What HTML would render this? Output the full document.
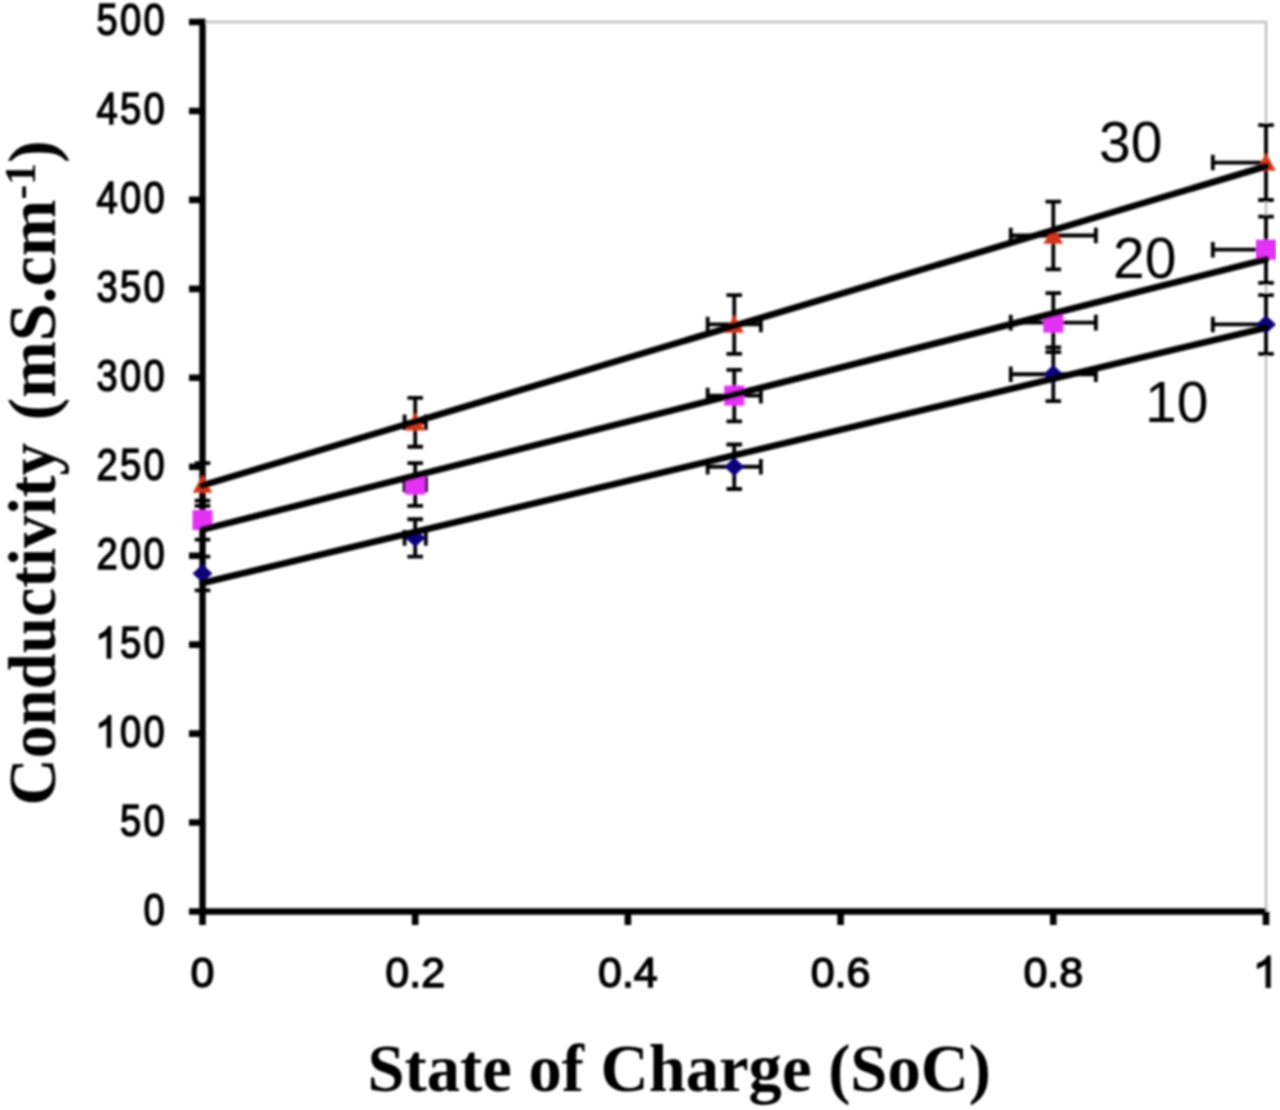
<!DOCTYPE html><html><head><meta charset="utf-8"><style>html,body{margin:0;padding:0;background:#fff;width:1280px;height:1110px;overflow:hidden}svg{display:block}.lb{font-family:"Liberation Sans",sans-serif;fill:#000}.ti{font-family:"Liberation Serif",serif;font-weight:bold;fill:#000}</style></head><body>
<svg width="1280" height="1110" viewBox="0 0 1280 1110">
<defs><filter id="b" x="0" y="0" width="1" height="1"><feGaussianBlur stdDeviation="0.9"/></filter></defs>
<rect width="1280" height="1110" fill="#fff"/>
<g filter="url(#b)">
<path d="M202.5 22.00 H1266.00 V911.5" fill="none" stroke="#C2C2C2" stroke-width="2.6"/>
<path d="M202.5 18.80V911.5H1266.0" fill="none" stroke="#000" stroke-width="6.4"/>
<path d="M189.00 911.50H202.5M189.00 822.55H202.5M189.00 733.60H202.5M189.00 644.65H202.5M189.00 555.70H202.5M189.00 466.75H202.5M189.00 377.80H202.5M189.00 288.85H202.5M189.00 199.90H202.5M189.00 110.95H202.5M189.00 22.00H202.5M202.50 911.5V925.00M415.20 911.5V925.00M627.90 911.5V925.00M840.60 911.5V925.00M1053.30 911.5V925.00M1266.00 911.5V925.00" stroke="#000" stroke-width="6.6" fill="none"/>
<path d="M202.50 463.19V505.89M194.70 463.19H210.30M194.70 505.89H210.30M415.20 397.81V446.74M407.40 397.81H423.00M407.40 446.74H423.00M404.57 422.28H425.84M404.57 414.48V430.08M425.84 414.48V430.08M734.25 295.08V353.78M726.45 295.08H742.05M726.45 353.78H742.05M707.66 324.43H760.84M707.66 316.63V332.23M760.84 316.63V332.23M1053.30 201.68V269.28M1045.50 201.68H1061.10M1045.50 269.28H1061.10M1010.76 235.48H1095.84M1010.76 227.68V243.28M1095.84 227.68V243.28M1266.00 125.09V199.99M1258.20 125.09H1273.80M1258.20 199.99H1273.80M1212.83 162.54H1266.00M1212.83 154.74V170.34M202.50 500.55V539.69M194.70 500.55H210.30M194.70 539.69H210.30M415.20 463.19V505.89M407.40 463.19H423.00M407.40 505.89H423.00M404.57 484.54H425.84M404.57 476.74V492.34M425.84 476.74V492.34M734.25 369.79V421.39M726.45 369.79H742.05M726.45 421.39H742.05M707.66 395.59H760.84M707.66 387.79V403.39M760.84 387.79V403.39M1053.30 293.21V352.09M1045.50 293.21H1061.10M1045.50 352.09H1061.10M1010.76 322.65H1095.84M1010.76 314.85V330.45M1095.84 314.85V330.45M1266.00 216.62V282.80M1258.20 216.62H1273.80M1258.20 282.80H1273.80M1212.83 249.71H1266.00M1212.83 241.91V257.51M202.50 556.59V590.39M194.70 556.59H210.30M194.70 590.39H210.30M415.20 519.23V556.59M407.40 519.23H423.00M407.40 556.59H423.00M404.57 537.91H425.84M404.57 530.11V545.71M425.84 530.11V545.71M734.25 444.51V488.99M726.45 444.51H742.05M726.45 488.99H742.05M707.66 466.75H760.84M707.66 458.95V474.55M760.84 458.95V474.55M1053.30 347.38V401.10M1045.50 347.38H1061.10M1045.50 401.10H1061.10M1010.76 374.24H1095.84M1010.76 366.44V382.04M1095.84 366.44V382.04M1266.00 295.08V353.78M1258.20 295.08H1273.80M1258.20 353.78H1273.80M1212.83 324.43H1266.00M1212.83 316.63V332.23" stroke="#000" stroke-width="3.8" fill="none"/>
<path d="M202.50 475.04L212.30 492.84L192.70 492.84Z" fill="#D4381A"/>
<path d="M415.20 412.78L425.00 430.58L405.40 430.58Z" fill="#D4381A"/>
<path d="M734.25 314.93L744.05 332.73L724.45 332.73Z" fill="#D4381A"/>
<path d="M1053.30 225.98L1063.10 243.78L1043.50 243.78Z" fill="#D4381A"/>
<path d="M1266.00 153.04L1275.80 170.84L1256.20 170.84Z" fill="#D4381A"/>
<rect x="192.50" y="510.12" width="20" height="20" fill="#E431F4"/>
<rect x="405.20" y="474.54" width="20" height="20" fill="#E431F4"/>
<rect x="724.25" y="385.59" width="20" height="20" fill="#E431F4"/>
<rect x="1043.30" y="312.65" width="20" height="20" fill="#E431F4"/>
<rect x="1256.00" y="239.71" width="20" height="20" fill="#E431F4"/>
<path d="M202.50 564.29L212.50 573.49L202.50 582.69L192.50 573.49Z" fill="#0E0478"/>
<path d="M415.20 528.71L425.20 537.91L415.20 547.11L405.20 537.91Z" fill="#0E0478"/>
<path d="M734.25 457.55L744.25 466.75L734.25 475.95L724.25 466.75Z" fill="#0E0478"/>
<path d="M1053.30 365.04L1063.30 374.24L1053.30 383.44L1043.30 374.24Z" fill="#0E0478"/>
<path d="M1266.00 315.23L1276.00 324.43L1266.00 333.63L1256.00 324.43Z" fill="#0E0478"/>
<line x1="202.50" y1="485.44" x2="1266.00" y2="166.27" stroke="#000" stroke-width="6.6" stroke-linecap="round"/>
<line x1="202.50" y1="529.65" x2="1266.00" y2="259.40" stroke="#000" stroke-width="6.6" stroke-linecap="round"/>
<line x1="202.50" y1="583.03" x2="1266.00" y2="327.69" stroke="#000" stroke-width="6.6" stroke-linecap="round"/>
<g class="lb" style="font-size:43.5px" stroke="#000" stroke-width="1.4">
<g transform="translate(142.41 924.90) scale(0.975 1)"><text transform="translate(12.10 0) scale(0.9 1)" x="-12.10" y="0">0</text></g>
<g transform="translate(118.82 835.95) scale(0.975 1)"><text transform="translate(12.10 0) scale(0.9 1)" x="-12.10" y="0">5</text><text transform="translate(36.29 0) scale(0.9 1)" x="-12.10" y="0">0</text></g>
<g transform="translate(95.24 747.00) scale(0.975 1)"><path transform="translate(12.10 0) scale(0.01912 -0.02124) translate(-569.5 0)" vector-effect="non-scaling-stroke" d="M763 0H583V1147Q518 1085 412.5 1023Q290 955 170 915V1104Q350 1175 487 1276Q600 1377 647 1472H763Z"/><text transform="translate(36.29 0) scale(0.9 1)" x="-12.10" y="0">0</text><text transform="translate(60.48 0) scale(0.9 1)" x="-12.10" y="0">0</text></g>
<g transform="translate(95.24 658.05) scale(0.975 1)"><path transform="translate(12.10 0) scale(0.01912 -0.02124) translate(-569.5 0)" vector-effect="non-scaling-stroke" d="M763 0H583V1147Q518 1085 412.5 1023Q290 955 170 915V1104Q350 1175 487 1276Q600 1377 647 1472H763Z"/><text transform="translate(36.29 0) scale(0.9 1)" x="-12.10" y="0">5</text><text transform="translate(60.48 0) scale(0.9 1)" x="-12.10" y="0">0</text></g>
<g transform="translate(95.24 569.10) scale(0.975 1)"><text transform="translate(12.10 0) scale(0.9 1)" x="-12.10" y="0">2</text><text transform="translate(36.29 0) scale(0.9 1)" x="-12.10" y="0">0</text><text transform="translate(60.48 0) scale(0.9 1)" x="-12.10" y="0">0</text></g>
<g transform="translate(95.24 480.15) scale(0.975 1)"><text transform="translate(12.10 0) scale(0.9 1)" x="-12.10" y="0">2</text><text transform="translate(36.29 0) scale(0.9 1)" x="-12.10" y="0">5</text><text transform="translate(60.48 0) scale(0.9 1)" x="-12.10" y="0">0</text></g>
<g transform="translate(95.24 391.20) scale(0.975 1)"><text transform="translate(12.10 0) scale(0.9 1)" x="-12.10" y="0">3</text><text transform="translate(36.29 0) scale(0.9 1)" x="-12.10" y="0">0</text><text transform="translate(60.48 0) scale(0.9 1)" x="-12.10" y="0">0</text></g>
<g transform="translate(95.24 302.25) scale(0.975 1)"><text transform="translate(12.10 0) scale(0.9 1)" x="-12.10" y="0">3</text><text transform="translate(36.29 0) scale(0.9 1)" x="-12.10" y="0">5</text><text transform="translate(60.48 0) scale(0.9 1)" x="-12.10" y="0">0</text></g>
<g transform="translate(95.24 213.30) scale(0.975 1)"><text transform="translate(12.10 0) scale(0.9 1)" x="-12.10" y="0">4</text><text transform="translate(36.29 0) scale(0.9 1)" x="-12.10" y="0">0</text><text transform="translate(60.48 0) scale(0.9 1)" x="-12.10" y="0">0</text></g>
<g transform="translate(95.24 124.35) scale(0.975 1)"><text transform="translate(12.10 0) scale(0.9 1)" x="-12.10" y="0">4</text><text transform="translate(36.29 0) scale(0.9 1)" x="-12.10" y="0">5</text><text transform="translate(60.48 0) scale(0.9 1)" x="-12.10" y="0">0</text></g>
<g transform="translate(95.24 35.40) scale(0.975 1)"><text transform="translate(12.10 0) scale(0.9 1)" x="-12.10" y="0">5</text><text transform="translate(36.29 0) scale(0.9 1)" x="-12.10" y="0">0</text><text transform="translate(60.48 0) scale(0.9 1)" x="-12.10" y="0">0</text></g>
</g>
<g class="lb" style="font-size:43px" stroke="#000" stroke-width="1.4">
<g transform="translate(190.54 987.20) scale(1 1)"><text x="0.00" y="0">0</text></g>
<g transform="translate(385.31 987.20) scale(1 1)"><text x="0.00" y="0">0</text><text x="23.91" y="0">.</text><text x="35.86" y="0">2</text></g>
<g transform="translate(598.01 987.20) scale(1 1)"><text x="0.00" y="0">0</text><text x="23.91" y="0">.</text><text x="35.86" y="0">4</text></g>
<g transform="translate(810.71 987.20) scale(1 1)"><text x="0.00" y="0">0</text><text x="23.91" y="0">.</text><text x="35.86" y="0">6</text></g>
<g transform="translate(1023.41 987.20) scale(1 1)"><text x="0.00" y="0">0</text><text x="23.91" y="0">.</text><text x="35.86" y="0">8</text></g>
<g transform="translate(1254.04 987.20) scale(1 1)"><path transform="translate(11.96 0) scale(0.02100 -0.02100) translate(-569.5 0)" vector-effect="non-scaling-stroke" d="M763 0H583V1147Q518 1085 412.5 1023Q290 955 170 915V1104Q350 1175 487 1276Q600 1377 647 1472H763Z"/></g>
</g>
<text class="lb" x="1099" y="162.3" style="font-size:57px">30</text>
<text class="lb" x="1113" y="277.5" style="font-size:57px">20</text>
<text class="lb" x="1145" y="422.1" style="font-size:57px">10</text>
<text class="ti" transform="translate(367.4 1091.3) scale(0.98 1)" style="font-size:68px">State of Charge (SoC)</text>
<text class="ti" transform="translate(54.5 805.5) rotate(-90) scale(0.96 1)" style="font-size:68px">Conductivity</text>
<text class="ti" transform="translate(54.5 420.5) rotate(-90) scale(1.0 1)" style="font-size:68px">(mS.cm<tspan dy="-20" style="font-size:44px">-1</tspan><tspan dy="20">)</tspan></text>
</g></svg></body></html>
